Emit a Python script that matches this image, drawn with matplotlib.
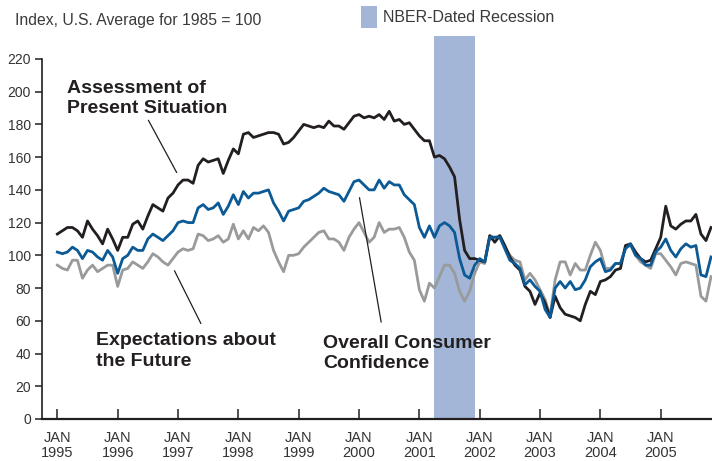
import matplotlib
matplotlib.use("Agg")
import matplotlib.pyplot as plt
from matplotlib.patches import Rectangle

plt.rcParams['font.family'] = ['Liberation Sans', 'DejaVu Sans']

# monthly values, Jan 1995 .. Nov 2005 (index, 1985 = 100)
present = [
    113, 115, 117, 117, 115, 111, 121, 116, 112, 107, 116, 110,   # 1995
    103, 111, 111, 119, 121, 116, 124, 131, 129, 127, 135, 138,   # 1996
    143, 146, 146, 144, 155, 159, 157, 158, 159, 150, 158, 165,   # 1997
    162, 174, 175, 172, 173, 174, 175, 175, 174, 168, 169, 172,   # 1998
    176, 180, 179, 178, 179, 178, 182, 179, 179, 177, 181, 185,   # 1999
    186, 184, 185, 184, 186, 183, 188, 182, 183, 180, 181, 177,   # 2000
    173, 170, 170, 160, 161, 159, 154, 148, 122, 103, 98, 98,     # 2001
    97, 96, 112, 108, 112, 106, 99, 94, 91, 81, 78, 70,           # 2002
    77, 71, 62, 75, 68, 64, 63, 62, 60, 70, 78, 76,               # 2003
    84, 85, 87, 91, 92, 106, 107, 102, 98, 96, 97, 104,           # 2004
    111, 130, 118, 116, 119, 121, 121, 125, 113, 109, 117,        # 2005
]
overall = [
    102, 101, 102, 105, 103, 98, 103, 102, 99, 97, 103, 99,
    89, 98, 100, 105, 103, 103, 110, 113, 111, 109, 112, 115,
    120, 121, 120, 120, 129, 131, 128, 129, 132, 125, 130, 137,
    131, 139, 135, 138, 138, 139, 140, 132, 127, 121, 127, 128,
    129, 133, 134, 136, 138, 141, 139, 138, 137, 133, 139, 145,
    146, 143, 140, 140, 146, 141, 145, 143, 143, 137, 134, 131,
    117, 111, 118, 111, 118, 120, 118, 114, 98, 88, 86, 94,
    98, 96, 111, 111, 111, 104, 97, 95, 92, 82, 85, 81,
    78, 67, 62, 80, 84, 80, 84, 79, 80, 85, 93, 96,
    98, 90, 91, 95, 95, 104, 107, 100, 98, 94, 94, 102,
    105, 110, 103, 99, 104, 107, 105, 106, 88, 87, 99,
]
expect = [
    94, 92, 91, 97, 97, 86, 91, 94, 90, 92, 94, 94,
    81, 91, 92, 96, 94, 92, 96, 101, 99, 96, 94, 98,
    102, 104, 103, 104, 113, 112, 109, 110, 112, 108, 110, 119,
    110, 115, 110, 117, 115, 118, 114, 103, 96, 90, 100, 100,
    101, 105, 108, 111, 114, 115, 110, 110, 108, 103, 111, 116,
    120, 114, 108, 111, 120, 114, 116, 116, 117, 111, 102, 97,
    79, 72, 83, 80, 87, 94, 94, 89, 78, 72, 78, 89,
    96, 95, 112, 111, 112, 105, 100, 97, 96, 85, 89, 85,
    79, 73, 63, 85, 96, 96, 88, 95, 91, 91, 100, 108,
    103, 92, 92, 95, 95, 105, 106, 100, 96, 94, 92, 101,
    101, 97, 93, 88, 95, 96, 95, 94, 75, 72, 87,
]
years = list(range(1995, 2006))
yticks = list(range(0, 221, 20))
recession = (75, 83)   # Apr 2001 - Nov 2001, months since Jan 1995

months = list(range(len(overall)))

fig = plt.figure(figsize=(7.12, 4.61), dpi=100)
ax = fig.add_axes([42 / 712, 1 - 419 / 461, 1 - 42 / 712, (419 - 36) / 461])

ax.axvspan(recession[0], recession[1], color='#a3b6d8', lw=0, zorder=0)
ax.plot(months, expect, color='#999a9c', lw=2.0, zorder=2)
ax.plot(months, present, color='#231f20', lw=2.0, zorder=3)
ax.plot(months, overall, color='#0b5a96', lw=2.0, zorder=4)

ax.set_xlim(-3.05, 130.2)
ax.set_ylim(0, 234)
ax.spines['top'].set_visible(False)
ax.spines['right'].set_visible(False)
ax.spines['left'].set_bounds(0, 220)
ax.spines['left'].set_linewidth(1.2)
ax.spines['left'].set_color('#231f20')
ax.spines['bottom'].set_linewidth(1.6)
ax.spines['bottom'].set_color('#231f20')

ax.set_yticks(yticks)
ax.set_yticklabels([str(v) for v in yticks])
ax.tick_params(axis='y', direction='out', length=5, width=1.1, pad=3,
               labelsize=10, labelcolor='#333333', color='#231f20')
ax.set_xticks([12 * i for i in range(len(years))])
ax.set_xticklabels(['JAN\n%d' % y for y in years], linespacing=1.1)
ax.tick_params(axis='x', direction='in', length=7, width=1.1, pad=8.5,
               labelsize=10.5, labelcolor='#333333', color='#231f20')

fig.text(15 / 712, 1 - 20 / 461, 'Index, U.S. Average for 1985 = 100',
         fontsize=11.3, color='#3a3a3a', va='center', ha='left')
fig.add_artist(Rectangle((361 / 712, 1 - 28 / 461), 16 / 712, 22 / 461,
                         transform=fig.transFigure, color='#a3b6d8', lw=0))
fig.text(383 / 712, 1 - 18 / 461, 'NBER-Dated Recession',
         fontsize=11.5, color='#3a3a3a', va='center', ha='left')

lab = dict(fontsize=14, fontweight='bold', color='#231f20',
           va='baseline', ha='left', linespacing=1.25)
ax.text(1.9, 186.9, 'Assessment of\nPresent Situation', **lab)
ax.text(7.7, 32.6, 'Expectations about\nthe Future', **lab)
ax.text(52.8, 31.2, 'Overall Consumer\nConfidence', **lab)

arrow = dict(arrowstyle='-', color='#231f20', lw=0.9)
ax.annotate('', xy=(24.0, 149.1), xytext=(17.85, 184), arrowprops=arrow)
ax.annotate('', xy=(23.05, 92.1), xytext=(28.8, 56.8), arrowprops=arrow)
ax.annotate('', xy=(60.0, 136.9), xytext=(64.5, 57.5), arrowprops=arrow)

fig.savefig('out.png', dpi=100)
